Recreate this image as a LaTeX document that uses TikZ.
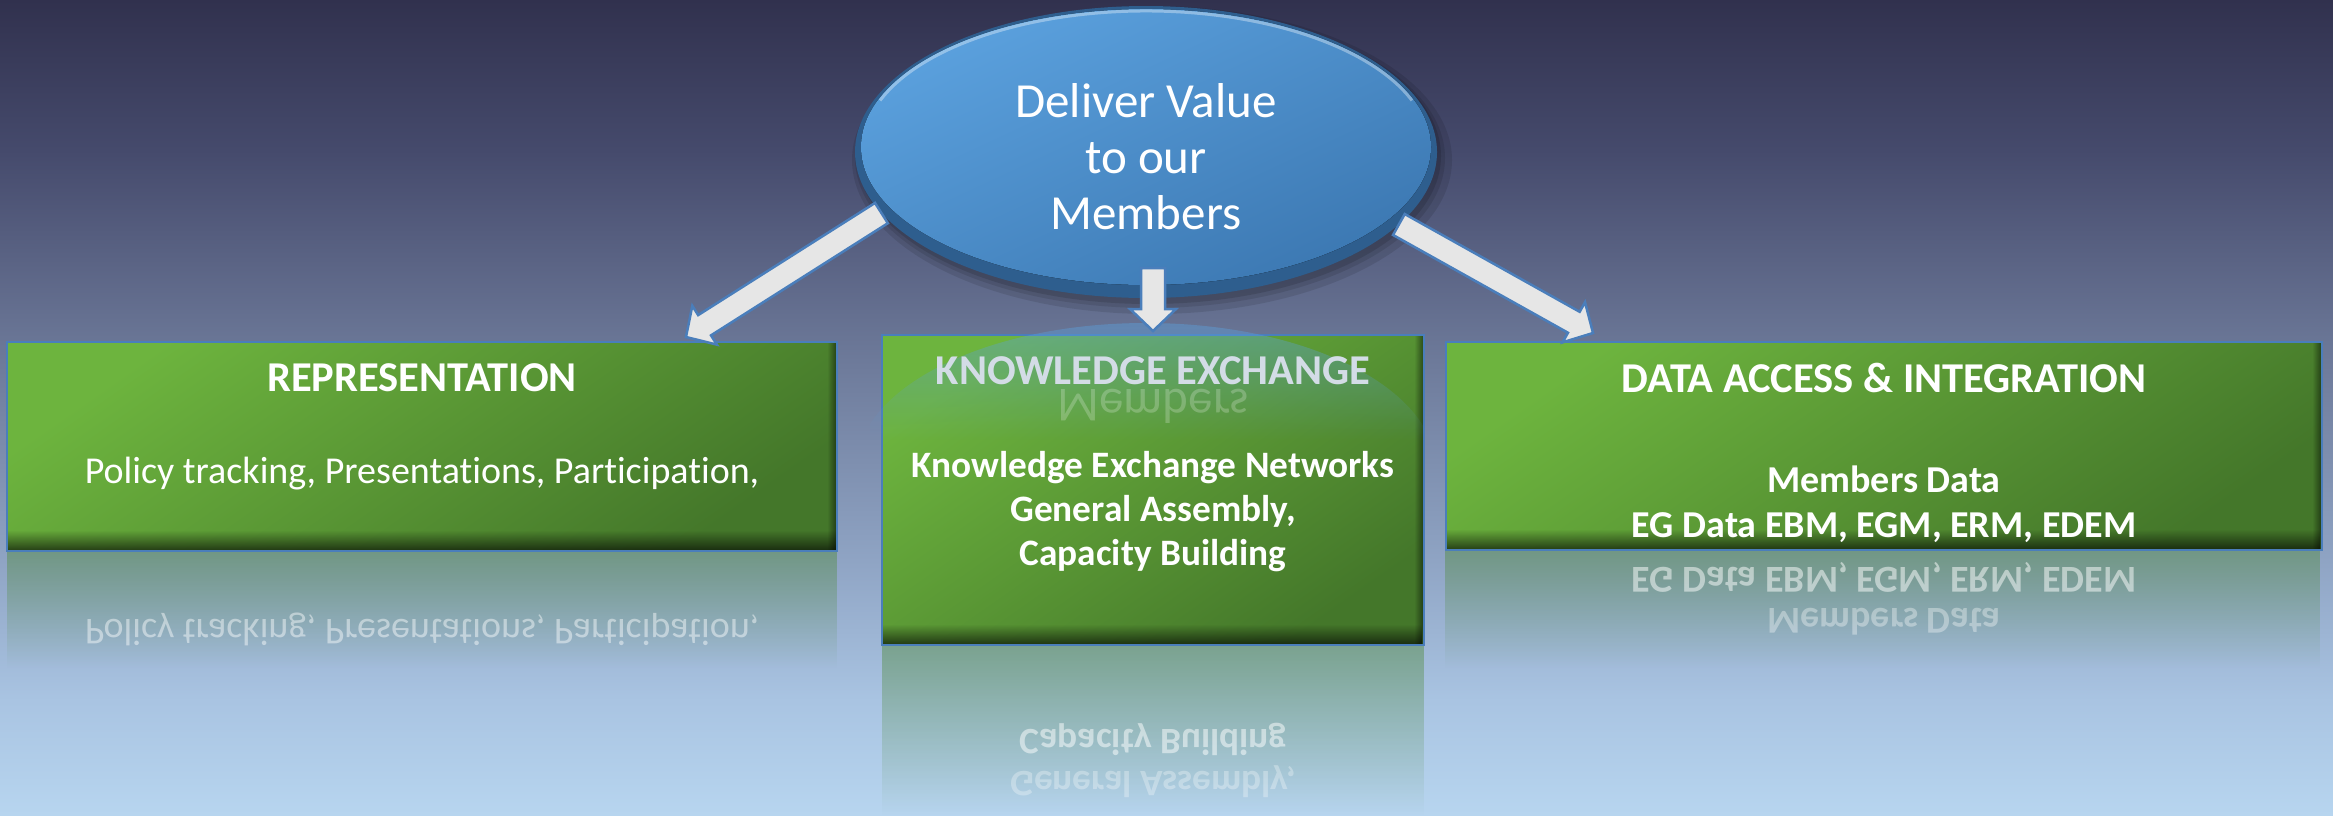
\documentclass[tikz,border=0pt]{standalone}
\usepackage{fontspec}
\usepackage{graphicx}
\setmainfont{Carlito}[Ligatures=NoCommon]
\usetikzlibrary{shapes.geometric,fadings,calc}
\definecolor{bgA}{HTML}{31314E}
\definecolor{bgB}{HTML}{454A6C}
\definecolor{bgC}{HTML}{6A7696}
\definecolor{bgD}{HTML}{8FA4C4}
\definecolor{bgE}{HTML}{A9C4E2}
\definecolor{bgF}{HTML}{B7D5EF}
\definecolor{boxblue}{HTML}{4A7EBB}
\definecolor{gtop}{HTML}{6DB43E}
\definecolor{gbot}{HTML}{44772A}
\definecolor{rim}{HTML}{2E5E8E}
\definecolor{etop}{HTML}{5BA1DE}
\definecolor{ebot}{HTML}{3C78B2}
\definecolor{arrfill}{HTML}{E6E6E6}
\definecolor{keheading}{HTML}{D3DCE6}
\definecolor{reflgreen}{HTML}{4F8A3A}
\pgfdeclareverticalshading{bgshade}{100bp}{color(0bp)=(bgF); color(25bp)=(bgF); color(32bp)=(bgE); color(40.6bp)=(bgD); color(54bp)=(bgC); color(65.8bp)=(bgB); color(75bp)=(bgA); color(100bp)=(bgA)}
\tikzfading[name=fadedown, top color=transparent!0, bottom color=transparent!100]
\tikzfading[name=fadeup, top color=transparent!100, bottom color=transparent!0]
\tikzfading[name=faderight, left color=transparent!100, right color=transparent!0]
\newcommand\blockarrow[2]{%
  \path[arrowbody] let \p1=(#1), \p2=(#2), \n1={atan2(\y2-\y1,\x2-\x1)}, \n2={veclen(\x2-\x1,\y2-\y1)} in
   [shift={(\p1)}, rotate=\n1] (0,-12) -- ({\n2-22},-12) -- ({\n2-22},-23) -- (\n2,0) -- ({\n2-22},23) -- ({\n2-22},12) -- (0,12) -- cycle;}
\newcommand\innershadow[1]{%
  \fill[black, opacity=.6, path fading=fadeup] ($(#1.south west)+(2.5pt,2.5pt)$) rectangle ($(#1.south east)+(-2.5pt,22pt)$);
  \fill[black, opacity=.45, path fading=faderight] ($(#1.south east)+(-11pt,2.5pt)$) rectangle ($(#1.north east)+(-2.5pt,-2.5pt)$);}
\begin{document}
\begin{tikzpicture}[x=1pt,y=-1pt,
  greenbox/.style={draw=boxblue, line width=2.5pt, top color=gtop, bottom color=gbot, shading angle=35, inner sep=0pt},
  reflbox/.style={fill=reflgreen, opacity=.45, path fading=fadedown},
  head/.style={text=white, font=\fontsize{42.5}{50}\selectfont\bfseries},
  bodyr/.style={text=white, align=center, font=\fontsize{38}{46}\selectfont},
  bodyb/.style={text=white, align=center, font=\fontsize{37.3}{44}\selectfont\bfseries},
  refltext/.style={text=white, align=center},
  arrowbody/.style={draw=boxblue, fill=arrfill, line width=2.5pt, line join=miter},
  hubtext/.style={text=white, align=center, font=\fontsize{49}{56}\selectfont}]
\useasboundingbox (0,0) rectangle (2333,815);
\fill[shading=bgshade] (0,0) rectangle (2333,815);

% reflections of the boxes
\fill[reflbox] (7,551) rectangle (837,668);
\fill[reflbox] (882,645) rectangle (1424,815);
\fill[reflbox] (1446,550) rectangle (2322,668);
\node[refltext, text opacity=.45, font=\fontsize{38}{46}\selectfont] (r1) at (422,629) {\scalebox{1}[-1]{Policy tracking, Presentations, Participation,}};
\node[refltext, text opacity=.5, font=\fontsize{37.3}{44}\selectfont\bfseries] (r2a) at (1153,739) {\scalebox{1}[-1]{Capacity Building}};
\node[refltext, text opacity=.3, font=\fontsize{37.3}{44}\selectfont\bfseries] (r2b) at (1153,782) {\scalebox{1}[-1]{General Assembly,}};
\node[refltext, text opacity=.5, font=\fontsize{38}{45}\selectfont\bfseries] (r3a) at (1884,577) {\scalebox{1}[-1]{EG Data EBM, EGM, ERM, EDEM}};
\node[refltext, text opacity=.35, font=\fontsize{38}{45}\selectfont\bfseries] (r3b) at (1884,622) {\scalebox{1}[-1]{Members Data}};

% boxes
\node[greenbox, minimum width=830pt, minimum height=209pt] (rep) at (422,446.5) {};
\node[greenbox, minimum width=542pt, minimum height=310pt] (kex) at (1153,490) {};
\node[greenbox, minimum width=876pt, minimum height=208pt] (dai) at (1884,446) {};
\innershadow{rep}
\innershadow{kex}
\innershadow{dai}

% reflection of the ellipse on the middle box
\begin{scope}
  \clip (1146,469) ellipse [x radius=290, y radius=146];
  \fill[etop, opacity=.45, path fading=fadedown] (870,318) rectangle (1430,440);
\end{scope}
\node[text=white, text opacity=.22, font=\fontsize{49}{56}\selectfont] (mref) at (1153,406) {\scalebox{1}[-1]{Members}};

% ellipse shadow
\fill[black, opacity=.10] (1152,160) ellipse [x radius=300, y radius=154];
\fill[black, opacity=.10] (1150,158) ellipse [x radius=295, y radius=150];
\fill[black, opacity=.12] (1149,156) ellipse [x radius=292, y radius=148];

% ellipse
\node[ellipse, fill=rim, minimum width=582pt, minimum height=292pt, inner sep=0pt] (hub) at (1146,152) {};
\fill[top color=etop, bottom color=ebot, shading angle=25] (1146,147) ellipse [x radius=285, y radius=138];
\draw[white, opacity=.35, line width=3pt] (1146,147) ++(200:283 and 136) arc[start angle=200, end angle=340, x radius=283, y radius=136];
\node[hubtext] (hubt) at (1146,157) {Deliver Value\\to our\\Members};

% arrows
\coordinate (lt) at (686,337);
\coordinate (rt) at (1593,333);
\coordinate (mt0) at (1153,268);
\coordinate (mt) at (1153,331);
\blockarrow{hub.193}{lt}
\blockarrow{hub.344}{rt}
\blockarrow{mt0}{mt}

% texts
\node[head] (reph) at (422,378) {REPRESENTATION};
\node[bodyr] (repb) at (422,474) {Policy tracking, Presentations, Participation,};
\node[head, text=keheading] (kexh) at (1153,371) {KNOWLEDGE EXCHANGE};
\node[bodyb] (kexb) at (1153,512) {Knowledge Exchange Networks\\General Assembly,\\Capacity Building};
\node[head] (daih) at (1884,378) {DATA ACCESS \& INTEGRATION};
\node[bodyb, font=\fontsize{38}{45}\selectfont\bfseries] (daib) at (1884,504) {Members Data\\EG Data EBM, EGM, ERM, EDEM};
\end{tikzpicture}
\end{document}
